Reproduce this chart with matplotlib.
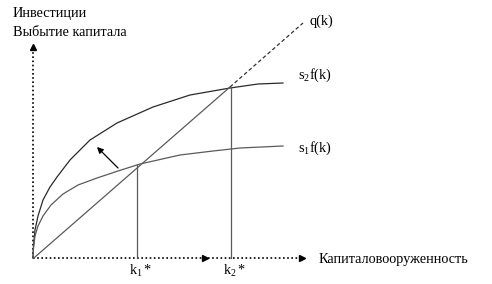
import matplotlib.pyplot as plt

plt.rcParams['font.family'] = ['Liberation Serif', 'DejaVu Serif']
plt.rcParams['mathtext.fontset'] = 'custom'
plt.rcParams['mathtext.rm'] = 'Liberation Serif'
plt.rcParams['mathtext.it'] = 'Liberation Serif'

# capital per worker (k) and curve values
k_s2 = [0, 0.5, 2, 5, 10, 17, 24, 37, 57, 84, 120, 157, 197, 225, 250]
s2f = [0, 12, 28, 42, 58, 71, 81, 98, 118, 135, 151, 163, 170, 174, 175]

k_s1 = [0, 0.5, 2, 5, 10, 18, 30, 45, 64, 85, 107, 147, 180, 207, 250]
s1f = [0, 10, 22, 32, 42, 53, 64, 73, 80, 87, 94, 103, 107, 110, 112]

# depreciation line q(k)
k_q = [2, 197]
q = [1, 171]
k_q_ext = [197, 270]
q_ext = [171, 235]

# steady states
k_star = [104, 198]
y_star = [93, 171]
star_labels = [r'$\mathrm{k_1*}$', r'$\mathrm{k_2*}$']

fig = plt.figure(figsize=(4.92, 2.84), dpi=100)
ax = fig.add_axes([0, 0, 1, 1])
ax.set_xlim(-33, 459)
ax.set_ylim(-26, 258)
ax.axis('off')

line_col = '#5a5a5a'
lw = 0.9
fs = 10.3

# axes (dotted with arrowheads)
ax.plot([0, 269], [0, 0], color='black', lw=1.2, ls=(0, (1, 1.5)))
ax.plot([0, 0], [0, 211], color='black', lw=1.2, ls=(0, (1, 1.5)))
ax.plot([269, 172], [0, 0], ls='none', marker='>', ms=4, color='black')
ax.plot([0], [211], ls='none', marker='^', ms=4, color='black')

# curves
ax.plot(k_s2, s2f, color='#2a2a2a', lw=lw)
ax.plot(k_s1, s1f, color=line_col, lw=lw)
ax.plot(k_q, q, color=line_col, lw=lw)
ax.plot(k_q_ext, q_ext, color='#333333', lw=lw, ls=(0, (3, 2)))

# steady state verticals
for xs, ys, lab in zip(k_star, y_star, star_labels):
    ax.plot([xs, xs], [0, ys], color=line_col, lw=lw)
    ax.text(xs + 4, -13, lab, ha='center', va='center', fontsize=fs)

# shift arrow
ax.annotate('', xy=(64, 111), xytext=(85, 90),
            arrowprops=dict(arrowstyle='-|>', color='black', lw=0.9,
                            mutation_scale=9, shrinkA=0, shrinkB=0))

# labels
ax.text(277, 237, 'q(k)', fontsize=fs, va='center')
ax.text(265, 183, r'$\mathrm{s_2f(k)}$', fontsize=fs, va='center')
ax.text(265, 110, r'$\mathrm{s_1f(k)}$', fontsize=fs, va='center')
ax.text(286, -2, 'Капиталовооруженность', fontsize=fs, va='center')
ax.text(-20, 245, 'Инвестиции', fontsize=fs, va='center')
ax.text(-20, 225, 'Выбытие капитала', fontsize=fs, va='center')

fig.savefig('out.png', dpi=100)
